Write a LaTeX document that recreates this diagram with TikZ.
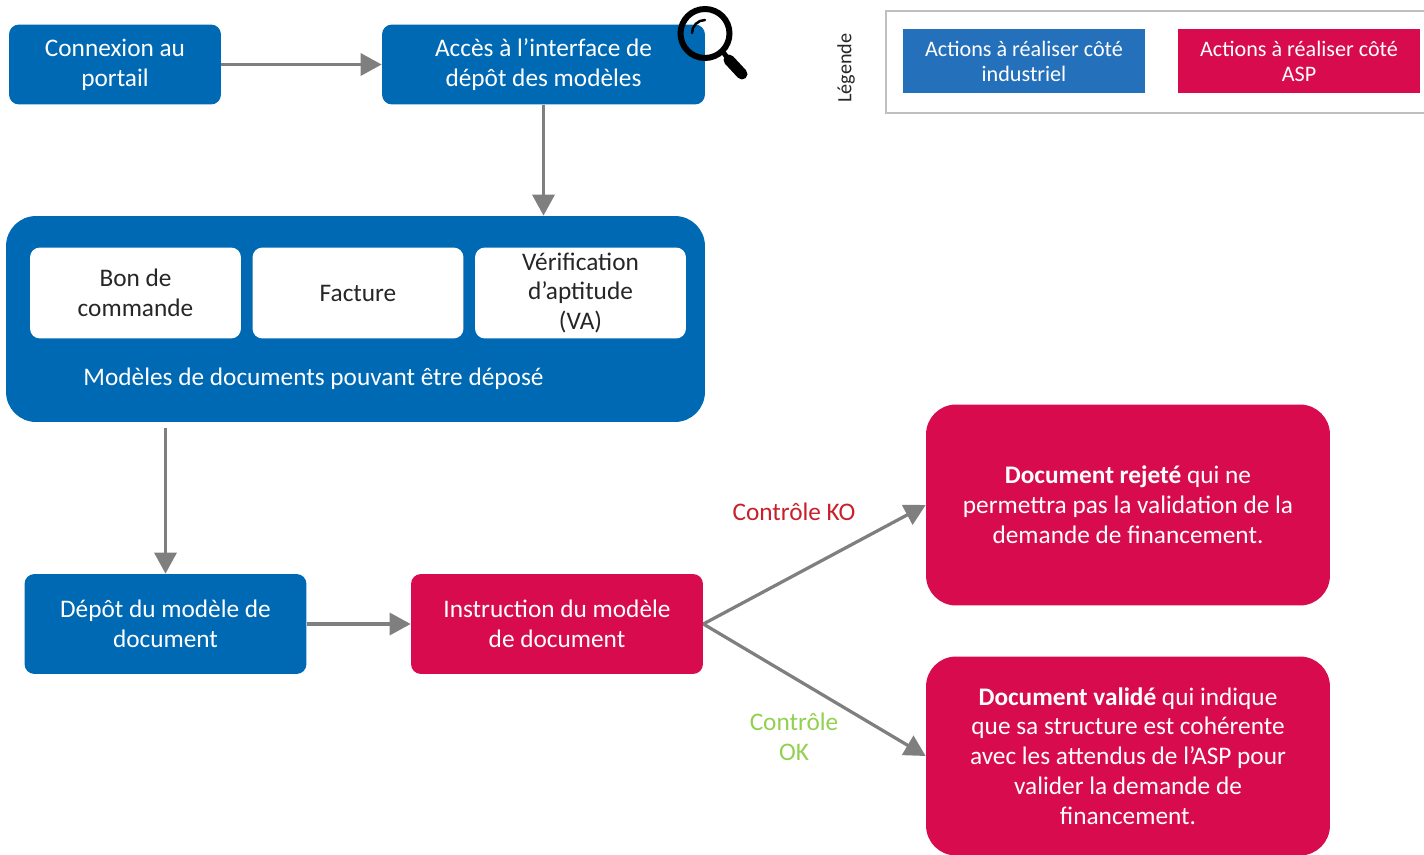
\documentclass[tikz,border=0pt]{standalone}
\usepackage{fontspec}
\setmainfont{Carlito}
\usetikzlibrary{arrows.meta}
\definecolor{aspblue}{HTML}{0069B4}
\definecolor{legblue}{HTML}{2470BA}
\definecolor{aspred}{HTML}{D80B4F}
\definecolor{arrowgray}{HTML}{7F7F7F}
\definecolor{kored}{HTML}{C8202A}
\definecolor{okgreen}{HTML}{92D050}
\tikzset{
    box/.style={align=center, inner sep=0pt, font=\fontsize{14.4}{17}\selectfont},
    bluebox/.style={box, fill=aspblue, text=white, rounded corners=0.2cm},
    redbox/.style={box, fill=aspred, text=white, rounded corners=0.2cm},
    whitebox/.style={box, fill=white, text=black!85, rounded corners=0.2cm, minimum width=4.22cm, minimum height=1.82cm},
    bigredbox/.style={redbox, rounded corners=0.6cm, minimum width=8.08cm},
    legbox/.style={box, text=white, minimum width=4.84cm, minimum height=1.28cm, font=\fontsize{12.6}{14.2}\selectfont},
    arrowline/.style={draw=arrowgray, line width=0.065cm, -{Triangle[length=0.42cm, width=0.44cm]}},
}
\begin{document}
\begin{tikzpicture}[x=0.02cm, y=-0.02cm]
    \useasboundingbox (0,0) rectangle (1424,855);
    \node [bluebox, minimum width=4.24cm, minimum height=1.6cm] (connexion) at (115,64.5) {Connexion au\\portail};
    \node [bluebox, minimum width=6.46cm, minimum height=1.6cm] (acces) at (543.5,64.5) {Accès à l’interface de\\dépôt des modèles};
    \node [bluebox, rounded corners=0.6cm, minimum width=13.98cm, minimum height=4.12cm] (modeles) at (355.5,319) {};
    \node [whitebox] (bon) at (135.5,293) {Bon de\\commande};
    \node [whitebox] (facture) at (358,293) {Facture};
    \node [whitebox] (verif) at (580.5,293) {Vérification\\d’aptitude\\(VA)};
    \node [box, text=white] (modeleslabel) at (313.5,379) {Modèles de documents pouvant être déposé};
    \node [bluebox, minimum width=5.64cm, minimum height=2cm] (depot) at (165.5,624) {Dépôt du modèle de\\document};
    \node [redbox, minimum width=5.84cm, minimum height=2cm] (instruction) at (557,624) {Instruction du modèle\\de document};
    \node [bigredbox, minimum height=4.02cm] (rejete) at (1128,505) {\textbf{Document rejeté} qui ne\\permettra pas la validation de la\\demande de financement.};
    \node [bigredbox, minimum height=3.98cm] (valide) at (1128,756) {\textbf{Document validé} qui indique\\que sa structure est cohérente\\avec les attendus de l’ASP pour\\valider la demande de\\financement.};
    \node [box, text=kored] (ko) at (794,512) {Contrôle KO};
    \node [box, text=okgreen] (ok) at (794,737) {Contrôle\\OK};

    \draw [arrowline] (connexion) -- (acces);
    \draw [arrowline] (acces) -- (acces |- modeles.north);
    \draw [arrowline, shorten <=0.12cm] (depot |- modeles.south) -- (depot);
    \draw [arrowline] (depot) -- (instruction);
    \draw [arrowline] (instruction.east) -- (rejete.west);
    \draw [arrowline] (instruction.east) -- (valide.west);

    \draw [black, line width=0.12cm] (705,33.5) circle (24.5);
    \draw [black, line width=0.05cm, line cap=round] (692,33) arc (180:270:13);
    \draw [black, line width=0.1cm] (723,52) -- (729,60);
    \draw [black, line width=0.22cm, line cap=round] (729,60) -- (742,74);

    \draw [black!25, line width=0.04cm, fill=white] (886,11) rectangle (1440,113);
    \node [box, rotate=90, text=black!85, font=\fontsize{11.5}{13}\selectfont] (legende) at (846,68) {Légende};
    \node [legbox, fill=legblue] (legindus) at (1024,61) {Actions à réaliser côté\\industriel};
    \node [legbox, fill=aspred] (legasp) at (1299,61) {Actions à réaliser côté\\ASP};
\end{tikzpicture}
\end{document}
